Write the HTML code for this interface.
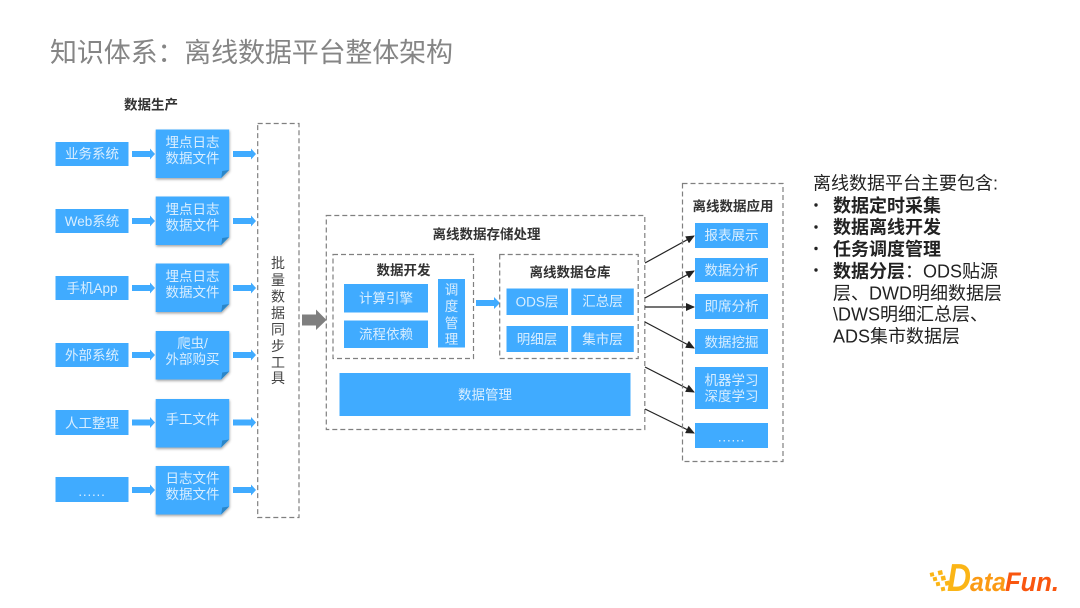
<!DOCTYPE html>
<html lang="zh">
<head>
<meta charset="utf-8">
<style>
html,body{margin:0;padding:0;background:#fff;width:1080px;height:608px;overflow:hidden}
svg{display:block}
text{font-family:"Liberation Sans","Noto Sans CJK SC",sans-serif}
.b{fill:#40abff}
.t{fill:#d9eeff;font-size:13.5px;text-anchor:middle}
.h{fill:#333;font-size:13.5px;font-weight:700;text-anchor:middle}
.d{fill:none;stroke:#808080;stroke-width:1.2;stroke-dasharray:5 3}
.a{fill:#40abff}
.l{stroke:#222;stroke-width:1.2;fill:none}
.r{fill:#222;font-size:18px}
.v{fill:#444;font-size:14px;text-anchor:middle}
</style>
</head>
<body>
<svg width="1080" height="608" viewBox="0 0 1080 608" xmlns="http://www.w3.org/2000/svg">
<defs>
<filter id="s" x="-10%" y="-10%" width="125%" height="125%"><feDropShadow dx="0.5" dy="1.5" stdDeviation="1.2" flood-color="#000" flood-opacity="0.35"/></filter>
<path id="ar" d="M0,-3H18V-5.5L23,0L18,5.5V3H0Z"/>
<marker id="m" markerWidth="9" markerHeight="8" refX="8" refY="4" orient="auto" markerUnits="userSpaceOnUse"><path d="M0,0L9,4L0,8Z" fill="#222"/></marker>
<path id="doc" d="M0,0H73.5V40.5L65.5,48.5H0Z"/>
<path id="fold" d="M73.5,40.5L65.5,48.5L66.5,41.5Z"/>
</defs>

<text x="50" y="62" font-size="27" fill="#858585" textLength="403" lengthAdjust="spacing">知识体系：离线数据平台整体架构</text>

<text class="h" x="151" y="109.5">数据生产</text>

<!-- Left boxes -->
<rect class="b" x="55.5" y="142" width="73" height="24"/>
<rect class="b" x="55.5" y="209" width="73" height="24"/>
<rect class="b" x="55.5" y="276" width="73" height="24"/>
<rect class="b" x="55.5" y="343" width="73" height="24"/>
<rect class="b" x="55.5" y="410" width="73" height="25"/>
<rect class="b" x="55.5" y="477" width="73" height="25"/>
<text class="t" x="92" y="158.5">业务系统</text>
<text class="t" x="92" y="226">Web系统</text>
<text class="t" x="92" y="293">手机App</text>
<text class="t" x="92" y="360">外部系统</text>
<text class="t" x="92" y="428">人工整理</text>
<text class="t" x="92" y="496" letter-spacing="0.8">......</text>

<!-- Arrows to docs and tool -->
<use href="#ar" class="a" x="132" y="154"/><use href="#ar" class="a" x="233" y="154"/>
<use href="#ar" class="a" x="132" y="221"/><use href="#ar" class="a" x="233" y="221"/>
<use href="#ar" class="a" x="132" y="288"/><use href="#ar" class="a" x="233" y="288"/>
<use href="#ar" class="a" x="132" y="355"/><use href="#ar" class="a" x="233" y="355"/>
<use href="#ar" class="a" x="132" y="422.5"/><use href="#ar" class="a" x="233" y="422.5"/>
<use href="#ar" class="a" x="132" y="490"/><use href="#ar" class="a" x="233" y="490"/>

<!-- Docs -->
<g filter="url(#s)">
<use href="#doc" class="b" x="155.7" y="129.5"/>
<use href="#doc" class="b" x="155.7" y="196.5"/>
<use href="#doc" class="b" x="155.7" y="263.5"/>
<use href="#doc" class="b" x="155.7" y="331"/>
<use href="#doc" class="b" x="155.7" y="399"/>
<use href="#doc" class="b" x="155.7" y="466"/>
</g>
<g fill="#2b86c8">
<use href="#fold" x="155.7" y="129.5"/>
<use href="#fold" x="155.7" y="196.5"/>
<use href="#fold" x="155.7" y="263.5"/>
<use href="#fold" x="155.7" y="331"/>
<use href="#fold" x="155.7" y="399"/>
<use href="#fold" x="155.7" y="466"/>
</g>
<text class="t" x="192.5" y="147">埋点日志</text><text class="t" x="192.5" y="163">数据文件</text>
<text class="t" x="192.5" y="214">埋点日志</text><text class="t" x="192.5" y="230">数据文件</text>
<text class="t" x="192.5" y="281">埋点日志</text><text class="t" x="192.5" y="297">数据文件</text>
<text class="t" x="192.5" y="348">爬虫/</text><text class="t" x="192.5" y="364">外部购买</text>
<text class="t" x="192.5" y="424">手工文件</text>
<text class="t" x="192.5" y="483">日志文件</text><text class="t" x="192.5" y="499">数据文件</text>

<!-- Tool box -->
<rect class="d" x="257.7" y="123.5" width="41.3" height="394"/>
<text class="v" x="278" y="268">批</text>
<text class="v" x="278" y="285">量</text>
<text class="v" x="278" y="301.5">数</text>
<text class="v" x="278" y="318">据</text>
<text class="v" x="278" y="334.5">同</text>
<text class="v" x="278" y="351">步</text>
<text class="v" x="278" y="367.5">工</text>
<text class="v" x="278" y="383">具</text>

<!-- Gray arrow -->
<path d="M302,314.5H316V309.5L326.5,320L316,330V325.5H302Z" fill="#7f7f7f"/>

<!-- Main -->
<rect class="d" x="326.3" y="215.5" width="318.5" height="214"/>
<text class="h" x="486.5" y="239">离线数据存储处理</text>

<rect class="d" x="333" y="254.5" width="140.5" height="104"/>
<text class="h" x="403.5" y="275">数据开发</text>
<rect class="b" x="344" y="284" width="84" height="28.5"/>
<rect class="b" x="344" y="320.5" width="84" height="27.5"/>
<rect class="b" x="438" y="279" width="27" height="68.5"/>
<text class="t" x="386" y="303">计算引擎</text>
<text class="t" x="386" y="339">流程依赖</text>
<text class="t" x="451.5" y="294.5">调</text>
<text class="t" x="451.5" y="311">度</text>
<text class="t" x="451.5" y="328">管</text>
<text class="t" x="451.5" y="344">理</text>

<path d="M476,300H494V297L500,303L494,309V306H476Z" class="a"/>

<rect class="d" x="499.7" y="254.5" width="138.5" height="104"/>
<text class="h" x="570" y="277">离线数据仓库</text>
<rect class="b" x="506.5" y="288.5" width="61.5" height="26.5"/>
<rect class="b" x="571.3" y="288.5" width="62.5" height="26.5"/>
<rect class="b" x="506.5" y="326" width="61.5" height="26"/>
<rect class="b" x="571.3" y="326" width="62.5" height="26"/>
<text class="t" x="537" y="306.5">ODS层</text>
<text class="t" x="602.5" y="306">汇总层</text>
<text class="t" x="537" y="344">明细层</text>
<text class="t" x="602.5" y="344">集市层</text>

<rect class="b" x="339.5" y="373" width="291" height="43"/>
<text class="t" x="485" y="399.5">数据管理</text>

<!-- Connectors -->
<line class="l" x1="645" y1="263" x2="694" y2="236" marker-end="url(#m)"/>
<line class="l" x1="645" y1="298" x2="694" y2="271" marker-end="url(#m)"/>
<line class="l" x1="645" y1="307" x2="694" y2="307" marker-end="url(#m)"/>
<line class="l" x1="645" y1="322" x2="694" y2="348" marker-end="url(#m)"/>
<line class="l" x1="645" y1="367" x2="694" y2="392" marker-end="url(#m)"/>
<line class="l" x1="645" y1="409" x2="694" y2="433" marker-end="url(#m)"/>

<!-- Right -->
<rect class="d" x="682.5" y="183.5" width="100.5" height="278"/>
<text class="h" x="733" y="211">离线数据应用</text>
<rect class="b" x="695" y="223" width="73" height="25"/>
<rect class="b" x="695" y="258" width="73" height="24"/>
<rect class="b" x="695" y="294" width="73" height="25"/>
<rect class="b" x="695" y="329" width="73" height="25"/>
<rect class="b" x="695" y="367" width="73" height="42"/>
<rect class="b" x="695" y="423" width="73" height="25"/>
<text class="t" x="731.5" y="240">报表展示</text>
<text class="t" x="731.5" y="275">数据分析</text>
<text class="t" x="731.5" y="311">即席分析</text>
<text class="t" x="731.5" y="347">数据挖掘</text>
<text class="t" x="731.5" y="385">机器学习</text>
<text class="t" x="731.5" y="401">深度学习</text>
<text class="t" x="731.5" y="441.5" letter-spacing="0.8">......</text>

<!-- Right text -->
<text class="r" x="813" y="189.5">离线数据平台主要包含:</text>
<circle cx="816" cy="205" r="1.7" fill="#222"/>
<circle cx="816" cy="227" r="1.7" fill="#222"/>
<circle cx="816" cy="248.5" r="1.7" fill="#222"/>
<circle cx="816" cy="270" r="1.7" fill="#222"/>
<text class="r" x="833" y="212" font-weight="700">数据定时采集</text>
<text class="r" x="833" y="233.5" font-weight="700">数据离线开发</text>
<text class="r" x="833" y="255.5" font-weight="700">任务调度管理</text>
<text class="r" x="833" y="277.5"><tspan font-weight="700">数据分层</tspan>：ODS贴源</text>
<text class="r" x="833" y="299.5">层、DWD明细数据层</text>
<text class="r" x="833" y="320.5">\DWS明细汇总层、</text>
<text class="r" x="833" y="342.5">ADS集市数据层</text>

<!-- Logo -->
<g fill="#fbb516">
<rect x="930" y="572.5" width="4" height="4" transform="rotate(-12 932 574.5)"/>
<rect x="938" y="570.5" width="4.5" height="4.5" transform="rotate(-12 940 572.5)"/>
<rect x="933" y="577" width="4" height="4" transform="rotate(-12 935 579)"/>
<rect x="941" y="576" width="4.5" height="4.5" transform="rotate(-12 943 578)"/>
<rect x="936" y="582" width="4" height="4" transform="rotate(-12 938 584)"/>
<rect x="945" y="581" width="4.5" height="4.5" transform="rotate(-12 947 583)"/>
<rect x="941" y="587" width="4" height="4" transform="rotate(-12 943 589)"/>
</g>
<text x="947" y="591" font-size="39" font-weight="700" font-style="italic" fill="#fbb516" textLength="24" lengthAdjust="spacingAndGlyphs" style="font-family:'Liberation Sans',sans-serif">D</text>
<text x="970" y="591" font-size="27" font-weight="700" font-style="italic" fill="#fb9a14" textLength="36" lengthAdjust="spacingAndGlyphs" style="font-family:'Liberation Sans',sans-serif">ata</text>
<text x="1005" y="591" font-size="27" font-weight="700" font-style="italic" fill="#f9560f" textLength="54" lengthAdjust="spacingAndGlyphs" style="font-family:'Liberation Sans',sans-serif">Fun.</text>
</svg>
</body>
</html>
